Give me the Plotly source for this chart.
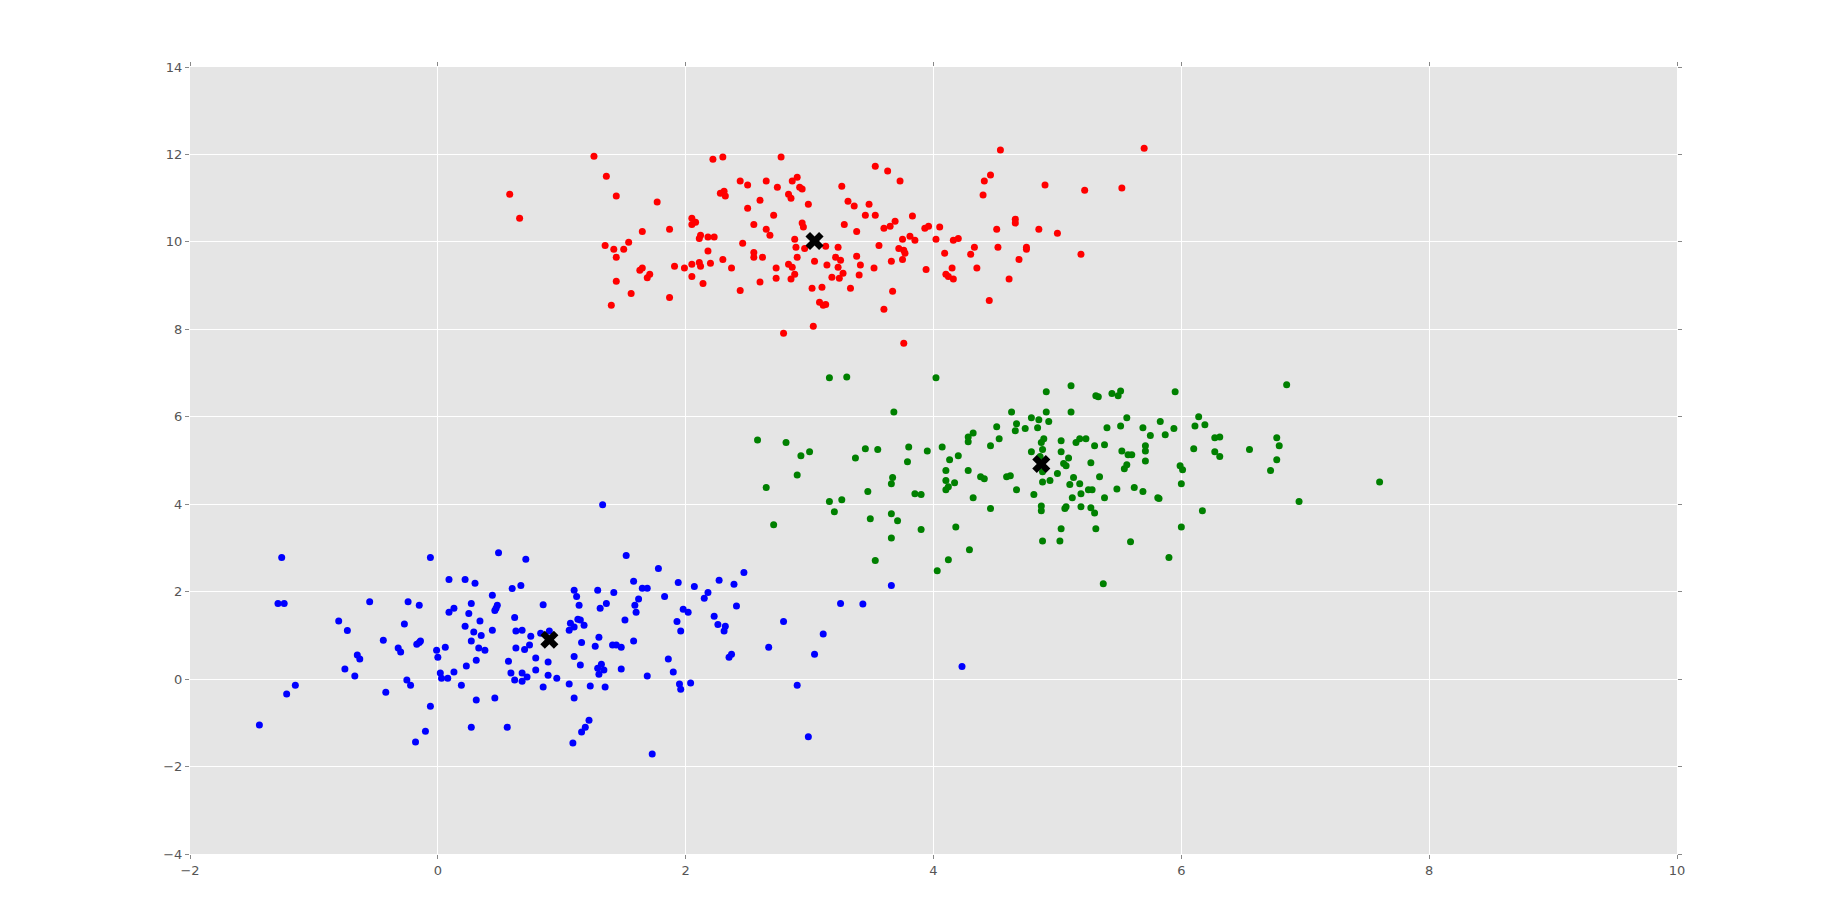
import plotly.graph_objects as go

# ---- data ----
red_x = [0.58,0.66,1.26,1.36,1.44,1.77,1.65,1.87,1.35,1.42,1.50,1.54,1.44,1.63,1.65,1.69,1.71,1.44,1.56,1.40,
         1.87,1.91,1.99,2.05,2.05,2.11,2.12,2.14,2.20,2.18,2.30,2.37,2.44,2.46,2.11,2.12,2.18,2.23,2.05,2.08,
         2.05,2.22,2.30,2.28,2.31,2.32,2.44,2.50,2.50,2.55,2.60,2.65,2.71,2.65,2.68,2.74,2.77,2.55,2.55,2.62,
         2.60,2.73,2.73,2.79,2.83,2.85,2.86,2.90,2.92,2.94,2.99,2.94,2.95,2.88,2.89,2.96,2.90,2.83,2.86,2.88,
         2.85,3.04,3.14,3.02,3.10,3.08,3.11,3.13,3.03,3.13,
         3.23,3.18,3.24,3.27,3.23,3.21,3.25,3.33,3.38,3.41,3.40,3.52,3.56,3.38,3.28,3.26,3.31,3.36,3.48,3.45,
         3.53,3.53,3.63,3.73,3.60,3.65,3.69,3.83,3.75,3.81,3.85,3.72,3.76,3.77,3.75,3.66,3.67,3.60,3.76,3.93,
         3.96,4.05,4.02,4.09,3.94,4.10,4.12,4.16,4.15,4.16,4.20,4.30,4.33,4.35,4.40,4.41,4.46,4.54,4.51,4.52,
         4.45,4.61,4.69,4.66,4.66,4.75,4.75,4.85,4.90,5.00,5.19,5.22,5.52,5.70]
red_y = [11.09,10.54,11.96,11.50,11.05,10.91,10.24,10.29,9.92,9.83,9.83,9.99,9.65,9.35,9.40,9.18,9.26,9.10,8.82,8.55,
         8.73,9.44,9.40,9.49,9.21,9.53,9.44,9.05,9.51,9.79,9.60,9.40,8.89,9.97,10.08,10.15,10.11,10.11,10.54,10.45,
         10.40,11.89,11.94,11.11,11.16,11.05,11.39,11.30,10.77,10.40,10.95,11.39,10.61,10.29,10.15,11.25,11.94,9.76,9.65,9.65,
         9.08,9.40,9.17,7.91,11.09,11.00,11.39,11.48,11.25,11.21,10.86,10.43,10.34,10.06,9.88,9.85,9.65,9.49,9.42,9.26,
         9.15,9.56,9.47,8.94,8.96,8.62,8.55,8.57,8.07,9.90,
         9.88,9.19,9.17,9.28,9.42,9.65,9.58,8.94,9.67,9.47,9.24,9.40,9.92,10.24,10.40,11.27,10.93,10.82,10.86,10.61,
         10.61,11.73,11.62,11.39,10.31,10.36,10.47,10.59,10.06,10.13,10.04,9.85,9.81,9.74,9.60,9.56,8.87,8.46,7.68,10.31,
         10.36,10.34,10.06,9.74,9.37,9.26,9.21,9.15,9.40,10.04,10.08,9.72,9.88,9.40,11.07,11.39,11.53,12.10,10.29,9.88,
         8.66,9.15,9.60,10.43,10.52,9.88,9.83,10.29,11.30,10.20,9.72,11.18,11.23,12.14]

green_x = [3.16,3.30,4.02,3.68,2.58,2.81,2.93,3.00,2.90,2.65,2.71,3.16,3.20,3.26,3.37,3.45,3.55,3.47,3.49,3.53,
           3.66,3.71,3.66,3.67,3.66,3.80,3.79,3.95,3.85,3.90,3.90,4.03,4.07,4.13,4.20,4.10,4.10,4.12,4.10,4.17,
           4.28,4.32,4.18,4.12,4.29,4.28,4.28,4.32,4.38,4.41,4.46,4.53,4.51,4.46,4.59,4.62,4.63,4.67,4.66,4.74,
           4.79,4.85,4.84,4.91,4.91,4.93,4.67,4.81,4.79,4.89,4.87,4.88,4.86,4.88,4.88,4.94,4.87,4.87,4.88,5.02,
           5.03,5.00,5.03,5.03,5.09,5.05,5.07,5.13,5.10,5.12,5.07,5.06,5.11,5.11,5.15,5.18,
           5.18,5.19,5.19,5.23,5.30,5.27,5.34,5.25,5.28,5.38,5.27,5.30,5.31,5.37,5.31,5.33,5.44,5.49,5.51,5.40,
           5.38,5.51,5.56,5.52,5.57,5.60,5.56,5.54,5.48,5.62,5.59,5.69,5.75,5.71,5.71,5.71,5.69,5.81,5.82,5.83,
           5.87,5.95,5.94,5.90,5.99,6.01,6.00,6.00,6.10,6.11,6.14,6.19,6.17,6.27,6.31,6.27,6.31,6.55,6.72,6.77,
           6.77,6.79,6.85,6.95,7.60]
green_y = [6.89,6.91,6.89,6.11,5.47,5.41,5.11,5.20,4.67,4.38,3.53,4.06,3.83,4.10,5.06,5.27,5.25,4.29,3.67,2.71,
           3.78,3.62,3.23,4.61,4.47,5.31,4.97,5.22,4.24,4.22,3.42,2.48,5.31,5.02,5.11,4.77,4.54,4.40,4.33,4.49,
           4.77,4.15,3.48,2.73,2.96,5.43,5.54,5.63,4.63,4.58,5.34,5.50,5.77,3.90,4.63,4.65,6.11,5.84,5.68,5.73,
           5.98,5.93,5.75,6.11,6.57,5.89,4.33,4.22,5.20,5.50,5.41,5.25,5.09,4.74,4.51,4.54,3.96,3.85,3.16,3.16,
           3.44,4.70,5.45,5.20,5.06,4.93,4.88,4.61,4.45,4.15,3.94,3.90,6.71,6.11,5.41,5.50,
           4.47,4.24,3.94,5.50,5.34,4.95,4.63,4.33,4.33,4.15,3.92,3.80,3.44,2.18,6.48,6.46,6.53,6.48,6.59,5.75,
           5.36,5.79,5.98,5.22,5.13,5.13,4.90,4.81,4.35,4.38,3.14,5.75,5.57,5.34,5.22,4.99,4.29,4.15,4.13,5.89,
           5.59,6.57,5.73,2.78,4.88,4.79,4.47,3.48,5.27,5.79,6.00,5.82,3.85,5.52,5.54,5.20,5.09,5.25,4.77,5.02,
           5.52,5.34,6.73,4.06,4.51]

blue_x = [-1.26,-1.29,-1.24,-1.44,-1.22,-1.15,-0.80,-0.73,-0.75,-0.67,-0.65,-0.63,-0.55,-0.44,-0.42,-0.32,-0.30,-0.27,-0.24,-0.15,
          -0.17,-0.15,-0.14,-0.25,-0.22,-0.06,-0.06,-0.10,-0.18,-0.01,0.00,0.06,0.02,0.03,0.08,0.13,0.19,0.09,0.22,0.30,
          0.09,0.13,0.27,0.25,0.22,0.29,0.34,0.35,0.27,0.33,0.38,0.23,0.31,0.31,0.27,0.46,0.56,0.44,0.48,0.47,
          0.46,0.44,0.49,0.60,0.67,0.71,0.62,0.63,0.68,0.75,0.63,0.70,0.74,0.57,0.59,0.62,0.68,0.72,0.68,0.79,
          0.79,0.85,0.83,0.85,
          1.33,1.52,1.78,1.58,1.65,1.69,1.94,2.07,2.27,2.47,2.39,2.18,2.15,2.41,1.83,1.62,1.59,1.60,1.98,2.02,
          1.93,1.96,2.23,2.26,2.32,2.31,2.35,2.37,1.10,1.12,1.29,1.42,1.14,1.31,1.36,1.51,1.13,1.15,1.07,1.10,
          1.06,1.18,0.90,1.16,1.30,1.27,1.41,1.44,1.48,1.58,1.10,1.15,0.89,0.89,0.96,1.06,1.23,1.35,1.10,1.29,
          1.32,1.34,1.30,1.48,1.69,1.86,1.90,1.95,1.96,2.04,1.22,1.19,1.16,1.09,1.73,2.67,2.79,2.90,2.99,3.04,
          3.11,3.25,3.43,3.66,4.23]
blue_y = [2.78,1.73,1.73,-1.05,-0.34,-0.14,1.33,1.11,0.23,0.07,0.55,0.46,1.77,0.89,-0.30,0.71,0.62,1.26,1.77,1.69,
          0.80,0.84,0.87,-0.02,-0.14,2.78,-0.62,-1.19,-1.44,0.66,0.50,0.73,0.14,0.02,0.02,0.16,-0.14,2.28,2.28,2.19,
          1.53,1.62,1.73,1.50,1.21,1.08,1.33,1.00,0.87,0.71,0.66,0.30,0.43,-0.48,-1.10,-0.43,-1.10,1.92,1.69,1.62,
          1.57,1.12,2.89,2.07,2.14,2.74,1.41,1.10,1.12,0.98,0.71,0.68,0.78,0.41,0.14,-0.02,0.14,0.05,-0.05,0.48,
          0.21,1.70,1.05,-0.18,
          3.99,2.83,2.53,2.24,2.08,2.08,2.21,2.12,2.26,2.44,2.17,1.98,1.85,1.67,1.89,1.83,1.69,1.53,1.60,1.53,
          1.32,1.10,1.44,1.25,1.21,1.10,0.50,0.57,2.03,1.89,2.03,1.98,1.69,1.62,1.73,1.35,1.37,1.35,1.28,1.19,
          1.12,1.23,1.10,0.84,0.96,0.75,0.78,0.78,0.73,0.87,0.52,0.32,0.39,0.09,0.02,-0.11,-0.16,-0.18,-0.43,0.25,
          0.34,0.21,0.11,0.23,0.07,0.46,0.16,-0.11,-0.23,-0.09,-0.94,-1.10,-1.21,-1.46,-1.71,0.73,1.32,-0.14,-1.32,0.57,
          1.03,1.73,1.72,2.14,0.29]

centroid_x = [0.90, 3.04, 4.87]
centroid_y = [0.90, 10.02, 4.92]

x_ticks = [-2, 0, 2, 4, 6, 8, 10]
y_ticks = [-4, -2, 0, 2, 4, 6, 8, 10, 12, 14]

fig = go.Figure()
for xs, ys, col in [(blue_x, blue_y, "#0000FF"), (green_x, green_y, "#008000"), (red_x, red_y, "#FF0000")]:
    fig.add_trace(go.Scatter(x=xs, y=ys, mode="markers",
                             marker=dict(color=col, size=7, line=dict(width=0)),
                             showlegend=False, hoverinfo="skip"))
fig.add_trace(go.Scatter(x=centroid_x, y=centroid_y, mode="markers",
                         marker=dict(symbol="x", color="black", size=16, line=dict(width=0)),
                         showlegend=False, hoverinfo="skip"))

axis_common = dict(
    showgrid=True, gridcolor="white", gridwidth=1,
    zeroline=False, showline=False,
    ticks="outside", ticklen=4, tickcolor="#888888", tickwidth=1,
    mirror="ticks",
    tickfont=dict(family="DejaVu Sans", size=13, color="#555555"),
)
fig.update_xaxes(range=[-2, 10], tickvals=x_ticks, ticktext=[str(v).replace("-", "\u2212") for v in x_ticks], **axis_common)
fig.update_yaxes(range=[-4, 14], tickvals=y_ticks, ticktext=[str(v).replace("-", "\u2212") for v in y_ticks], **axis_common)

fig.update_layout(
    width=1825, height=922,
    margin=dict(l=182, r=156, t=59, b=76),
    plot_bgcolor="#E5E5E5", paper_bgcolor="white",
)
fig.write_html("out.html")
